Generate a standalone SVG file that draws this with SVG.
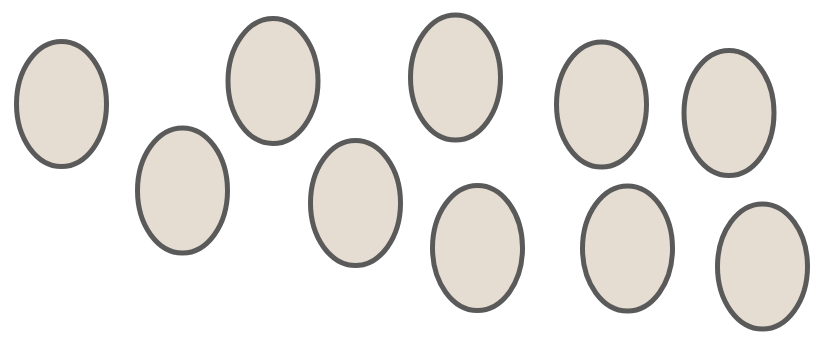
<svg xmlns="http://www.w3.org/2000/svg" width="819" height="337" viewBox="0 0 819 337">
<style>
.n{fill:#e6ddd2;stroke:#5a5a5a;stroke-width:5}
</style>
<rect width="819" height="337" fill="#ffffff"/>
<g id="connectors"/>
<g id="n1"><ellipse class="n" cx="61.5" cy="104" rx="45" ry="62.5"/></g>
<g id="n2"><ellipse class="n" cx="182.5" cy="190.5" rx="45" ry="62.5"/></g>
<g id="n3"><ellipse class="n" cx="273" cy="81" rx="45" ry="62.5"/></g>
<g id="n4"><ellipse class="n" cx="355.5" cy="203" rx="45" ry="62.5"/></g>
<g id="n5"><ellipse class="n" cx="455.5" cy="77.5" rx="45" ry="62.5"/></g>
<g id="n6"><ellipse class="n" cx="477.5" cy="248" rx="45" ry="62.5"/></g>
<g id="n7"><ellipse class="n" cx="601.5" cy="104.5" rx="45" ry="62.5"/></g>
<g id="n8"><ellipse class="n" cx="627.5" cy="248.5" rx="45" ry="62.5"/></g>
<g id="n9"><ellipse class="n" cx="729" cy="113" rx="45" ry="62.5"/></g>
<g id="n10"><ellipse class="n" cx="762.5" cy="266.5" rx="45" ry="62.5"/></g>
</svg>
